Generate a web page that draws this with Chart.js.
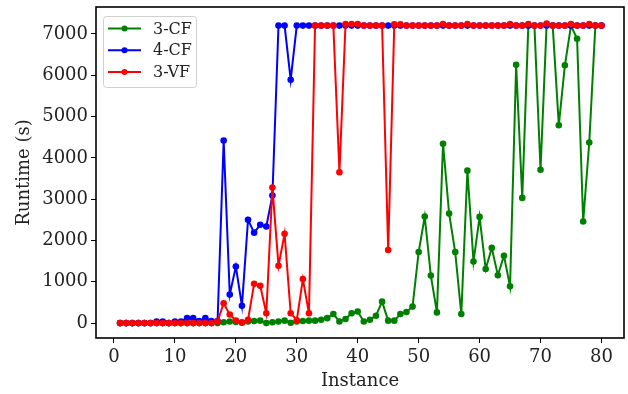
<!DOCTYPE html>
<html>
<head>
<meta charset="utf-8">
<script src="https://cdn.jsdelivr.net/npm/chart.js@4.4.1/dist/chart.umd.min.js"></script>
<style>
  html, body { margin: 0; padding: 0; background: #fff; }
  #wrap { width: 628px; height: 394px; }
</style>
</head>
<body>
<div id="wrap"><canvas id="chart" width="628" height="394"></canvas></div>
<script>
// instance numbers (x axis)
const instances = [
  1, 2, 3, 4, 5, 6, 7, 8, 9, 10, 11, 12, 13, 14, 15, 16, 17, 18, 19, 20,
  21, 22, 23, 24, 25, 26, 27, 28, 29, 30, 31, 32, 33, 34, 35, 36, 37, 38, 39, 40,
  41, 42, 43, 44, 45, 46, 47, 48, 49, 50, 51, 52, 53, 54, 55, 56, 57, 58, 59, 60,
  61, 62, 63, 64, 65, 66, 67, 68, 69, 70, 71, 72, 73, 74, 75, 76, 77, 78, 79, 80
];

// runtimes in seconds (timeout = 7200)
const cf3 = [
  0, 0, 0, 0, 0, 0, 0, 0, 0, 0, 0, 0, 0, 0, 0, 0, 0, 20, 40, 30,
  20, 40, 50, 60, 0, 20, 40, 60, 10, 40, 50, 60, 60, 80, 120, 220, 40, 100, 240, 280,
  40, 80, 180, 520, 60, 60, 220, 270, 400, 1720, 2580, 1150, 260, 4340, 2650, 1720, 220, 3690, 1490, 2570,
  1310, 1820, 1160, 1630, 890, 6250, 3030, 7200, 7200, 3710, 7230, 7200, 4790, 6240, 7200, 6880, 2460, 4370, 7200, 7200
];
const cf4 = [
  0, 0, 0, 0, 0, 0, 40, 40, 0, 40, 40, 120, 120, 50, 120, 50, 50, 4420, 690, 1370,
  420, 2500, 2190, 2380, 2340, 3090, 7200, 7200, 5890, 7200, 7200, 7200, 7200, 7200, 7200, 7200, 7200, 7200, 7200, 7200,
  7200, 7200, 7200, 7200, 7200, 7200, 7200, 7200, 7200, 7200, 7200, 7200, 7200, 7200, 7200, 7200, 7200, 7200, 7200, 7200,
  7200, 7200, 7200, 7200, 7200, 7200, 7200, 7200, 7200, 7200, 7200, 7200, 7200, 7200, 7200, 7200, 7200, 7200, 7200, 7200
];
const vf3 = [
  0, 0, 0, 0, 0, 0, 0, 0, 0, 0, 0, 0, 0, 0, 0, 0, 40, 480, 210, 60,
  10, 80, 950, 905, 240, 3280, 1390, 2160, 240, 70, 1065, 240, 7200, 7200, 7200, 7200, 3650, 7240, 7240, 7240,
  7200, 7200, 7200, 7200, 1770, 7230, 7230, 7200, 7200, 7200, 7200, 7200, 7200, 7240, 7200, 7200, 7200, 7240, 7200, 7200,
  7200, 7200, 7200, 7200, 7240, 7200, 7200, 7240, 7200, 7200, 7250, 7200, 7200, 7200, 7240, 7200, 7200, 7240, 7200, 7200
];

const xTicks = [0, 10, 20, 30, 40, 50, 60, 70, 80];
const yTicks = [0, 1000, 2000, 3000, 4000, 5000, 6000, 7000];

const seriesNames = ['3-CF', '4-CF', '3-VF'];
const seriesColors = ['#008000', '#0000ff', '#ff0000'];
const seriesData = [cf3, cf4, vf3];

const FONT = "'DejaVu Serif', serif";

function makeDataset(i) {
  return {
    label: seriesNames[i],
    data: instances.map((x, k) => ({ x: x, y: seriesData[i][k] })),
    borderColor: seriesColors[i],
    backgroundColor: seriesColors[i],
    borderWidth: 2,
    pointRadius: 3.3,
    pointBorderWidth: 0,
    pointBackgroundColor: seriesColors[i],
    tension: 0,
    order: 2 - i // red on top, like matplotlib
  };
}

// frame round the plot and the legend box in the upper left corner
const framePlugin = {
  id: 'frame',
  afterDraw(chart) {
    const { ctx, chartArea: a } = chart;
    ctx.save();
    ctx.strokeStyle = '#000';
    ctx.lineWidth = 1.6;
    ctx.strokeRect(a.left, a.top, a.right - a.left, a.bottom - a.top);

    // legend
    const bx = a.left + 7, by = a.top + 9, bw = 93, bh = 71;
    ctx.fillStyle = 'rgba(255,255,255,0.8)';
    ctx.strokeStyle = '#d0d0d0';
    ctx.lineWidth = 1;
    ctx.beginPath();
    ctx.roundRect(bx + 0.5, by + 0.5, bw, bh, 3);
    ctx.fill();
    ctx.stroke();

    ctx.font = '16px ' + FONT;
    ctx.textBaseline = 'middle';
    ctx.textAlign = 'left';
    for (let i = 0; i < seriesNames.length; i++) {
      const y = by + 12.5 + i * 21.7;
      ctx.strokeStyle = seriesColors[i];
      ctx.lineWidth = 2;
      ctx.beginPath();
      ctx.moveTo(bx + 5, y);
      ctx.lineTo(bx + 38, y);
      ctx.stroke();
      ctx.fillStyle = seriesColors[i];
      ctx.beginPath();
      ctx.arc(bx + 21.5, y, 3, 0, Math.PI * 2);
      ctx.fill();
      ctx.fillStyle = '#222';
      ctx.fillText(seriesNames[i], bx + 50, y + 1);
    }
    ctx.restore();
  }
};

const bg = {
  id: 'bg',
  beforeDraw(chart) {
    const ctx = chart.ctx;
    ctx.save();
    ctx.fillStyle = '#fff';
    ctx.fillRect(0, 0, chart.width, chart.height);
    ctx.restore();
  }
};

new Chart(document.getElementById('chart').getContext('2d'), {
  type: 'line',
  data: { datasets: [0, 1, 2].map(makeDataset) },
  options: {
    responsive: false,
    animation: false,
    layout: { padding: { top: 7, right: 3, left: 0, bottom: 0 } },
    plugins: { legend: { display: false }, tooltip: { enabled: false } },
    scales: {
      x: {
        type: 'linear',
        min: -2.95,
        max: 83.7,
        afterBuildTicks: s => { s.ticks = xTicks.map(v => ({ value: v })); },
        afterFit: s => { s.height = 56; s.paddingLeft = 0; s.paddingRight = 0; },
        grid: { drawOnChartArea: false, drawTicks: true, tickLength: 5, tickColor: '#000', tickWidth: 1 },
        border: { display: false },
        ticks: { color: '#222', font: { family: FONT, size: 18 }, padding: 4, maxRotation: 0, autoSkip: false },
        title: { display: true, text: 'Instance', color: '#222', font: { family: FONT, size: 18 }, padding: { top: 2, bottom: 2 } }
      },
      y: {
        min: -360,
        max: 7650,
        afterBuildTicks: s => { s.ticks = yTicks.map(v => ({ value: v })); },
        afterFit: s => { s.width = 96; s.paddingTop = 0; s.paddingBottom = 0; },
        grid: { drawOnChartArea: false, drawTicks: true, tickLength: 5, tickColor: '#000', tickWidth: 1 },
        border: { display: false },
        ticks: { color: '#222', font: { family: FONT, size: 18 }, padding: 3, callback: v => String(v) },
        title: { display: true, text: 'Runtime (s)', color: '#222', font: { family: FONT, size: 18 }, padding: { top: 14, bottom: 0 } }
      }
    }
  },
  plugins: [bg, framePlugin]
});
</script>
</body>
</html>
